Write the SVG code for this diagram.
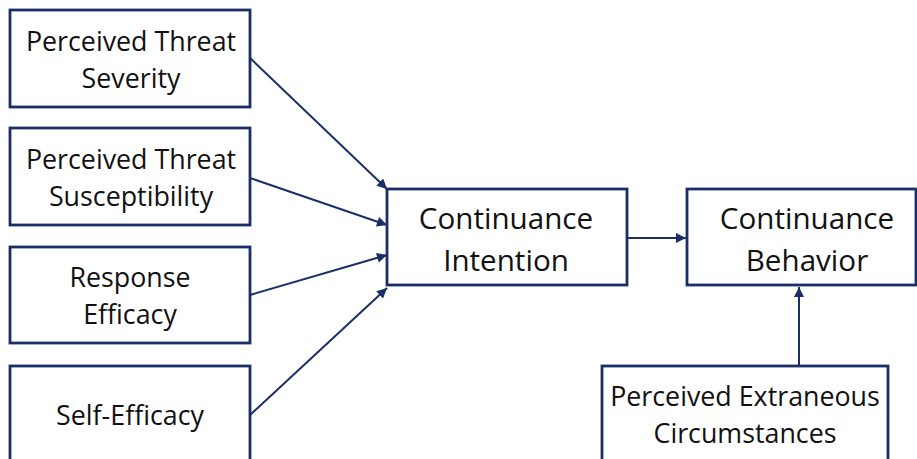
<svg xmlns="http://www.w3.org/2000/svg" width="917" height="459" viewBox="0 0 917 459">
  <style>
    .box { fill: #ffffff; stroke: #1a2f68; stroke-width: 2.8; }
    .lbl { font-family: "Open Sans", Lato, sans-serif; font-size: 26.8px; fill: #111111; text-anchor: middle; }
    .big { font-size: 29.6px; }
    .edge { stroke: #1a2f68; stroke-width: 2; fill: none; marker-end: url(#head); }
  </style>
  <defs>
    <marker id="head" viewBox="0 0 10 10" refX="10" refY="5" markerWidth="11" markerHeight="10" markerUnits="userSpaceOnUse" orient="auto">
      <path d="M0,0 L10,5 L0,10 z" fill="#1a2f68"/>
    </marker>
  </defs>
  <rect width="917" height="459" fill="#ffffff"/>

  <g id="connectors">
    <line class="edge" x1="250" y1="58" x2="387" y2="189"/>
    <line class="edge" x1="250" y1="178" x2="387" y2="225"/>
    <line class="edge" x1="250" y1="295" x2="387" y2="255"/>
    <line class="edge" x1="250" y1="415" x2="387" y2="288"/>
    <line class="edge" x1="627" y1="238" x2="686" y2="238"/>
    <line class="edge" x1="799" y1="366" x2="799" y2="287"/>
  </g>

  <g id="severity">
    <rect class="box" x="10" y="10" width="240" height="97"/>
    <text class="lbl" x="131" y="51">Perceived Threat</text>
    <text class="lbl" x="131" y="88">Severity</text>
  </g>
  <g id="susceptibility">
    <rect class="box" x="10" y="128" width="240" height="97"/>
    <text class="lbl" x="131" y="169">Perceived Threat</text>
    <text class="lbl" x="131" y="206">Susceptibility</text>
  </g>
  <g id="response-efficacy">
    <rect class="box" x="10" y="247" width="240" height="96"/>
    <text class="lbl" x="130" y="287">Response</text>
    <text class="lbl" x="130" y="324">Efficacy</text>
  </g>
  <g id="self-efficacy">
    <rect class="box" x="10" y="366" width="240" height="100"/>
    <text class="lbl" x="130" y="425">Self-Efficacy</text>
  </g>
  <g id="intention">
    <rect class="box" x="387" y="189" width="240" height="96"/>
    <text class="lbl big" x="506" y="229">Continuance</text>
    <text class="lbl big" x="506" y="271">Intention</text>
  </g>
  <g id="behavior">
    <rect class="box" x="687" y="189" width="229" height="96"/>
    <text class="lbl big" x="807" y="229">Continuance</text>
    <text class="lbl big" x="807" y="271">Behavior</text>
  </g>
  <g id="extraneous">
    <rect class="box" x="602" y="366" width="286" height="100"/>
    <text class="lbl" x="745" y="406">Perceived Extraneous</text>
    <text class="lbl" x="745" y="443">Circumstances</text>
  </g>
</svg>
